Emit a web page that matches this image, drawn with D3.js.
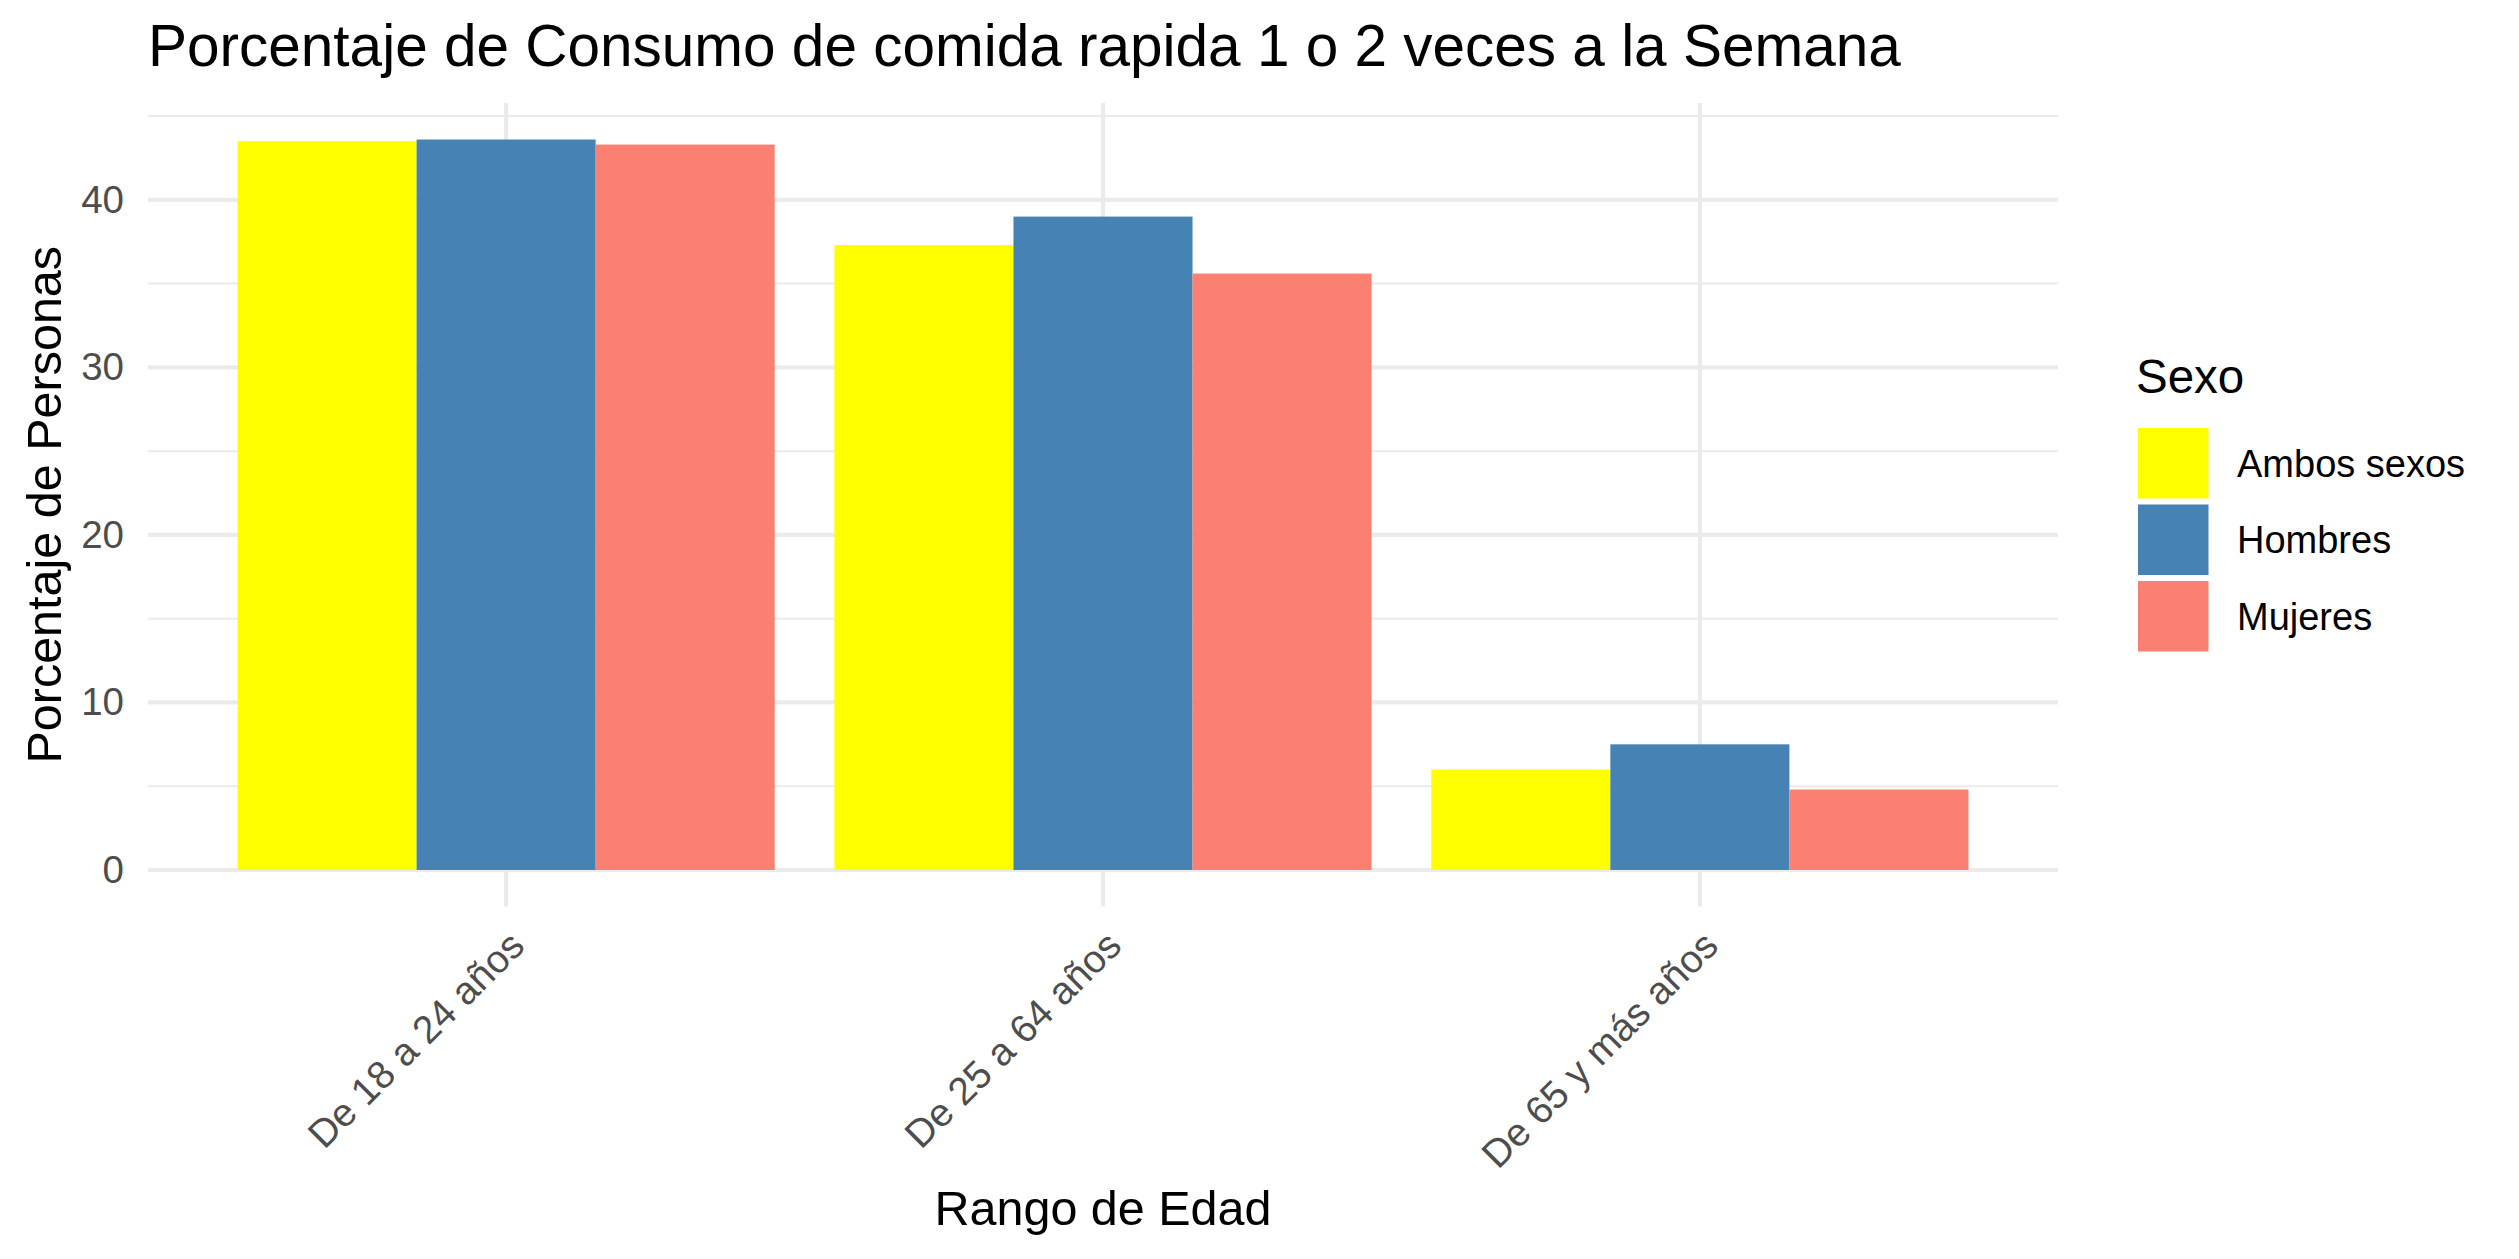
<!DOCTYPE html>
<html>
<head>
<meta charset="utf-8">
<script src="https://cdn.jsdelivr.net/npm/d3@7"></script>
<style>
  html, body { margin: 0; padding: 0; background: #fff; }
  svg { display: block; font-family: "Liberation Sans", Arial, Helvetica, sans-serif; }
</style>
</head>
<body>
<svg id="chart" width="2519" height="1259"></svg>
<script>
// ---- data ----
const categories = ["De 18 a 24 años", "De 25 a 64 años", "De 65 y más años"];
const series = ["Ambos sexos", "Hombres", "Mujeres"];
const colors = ["#FFFF00", "#4682B4", "#FA8072"];
const ambosSexos = [43.5, 37.3, 6.0];
const hombres = [43.6, 39.0, 7.5];
const mujeres = [43.3, 35.6, 4.8];
const yTicks = [0, 10, 20, 30, 40];
const yMinorTicks = [5, 15, 25, 35, 45];
const titleText = "Porcentaje de Consumo de comida rapida 1 o 2 veces a la Semana";
const xTitle = "Rango de Edad";
const yTitle = "Porcentaje de Personas";
const legendTitle = "Sexo";

const seriesValues = [ambosSexos, hombres, mujeres];
const data = [];
categories.forEach((c, i) => {
  series.forEach((s, j) => data.push({ cat: c, ser: s, val: seriesValues[j][i] }));
});

// ---- layout ----
const svg = d3.select("#chart");
const panel = { left: 148, right: 2058, top: 103, bottom: 906.5 };
const maxV = d3.max(data, d => d.val);

const x = d3.scaleBand().domain(categories).range([panel.left, panel.right])
  .paddingInner(0.1).paddingOuter(0.15).align(0.5);
const xInner = d3.scaleBand().domain(series).range([0, x.bandwidth()]).padding(0);
const y = d3.scaleLinear().domain([-0.05 * maxV, 1.05 * maxV]).range([panel.bottom, panel.top]);
const color = d3.scaleOrdinal().domain(series).range(colors);

const grid = "#EBEBEB";
const g = svg.append("g");

// minor gridlines
g.selectAll("line.minor").data(yMinorTicks.filter(t => y(t) >= panel.top)).enter().append("line")
  .attr("x1", panel.left).attr("x2", panel.right)
  .attr("y1", d => y(d)).attr("y2", d => y(d))
  .attr("stroke", grid).attr("stroke-width", 2);

// major horizontal gridlines
g.selectAll("line.major").data(yTicks).enter().append("line")
  .attr("x1", panel.left).attr("x2", panel.right)
  .attr("y1", d => y(d)).attr("y2", d => y(d))
  .attr("stroke", grid).attr("stroke-width", 4.2);

// vertical gridlines
g.selectAll("line.vmajor").data(categories).enter().append("line")
  .attr("x1", d => x(d) + x.bandwidth() / 2).attr("x2", d => x(d) + x.bandwidth() / 2)
  .attr("y1", panel.top).attr("y2", panel.bottom)
  .attr("stroke", grid).attr("stroke-width", 4.2);

// bars
g.selectAll("rect.bar").data(data).enter().append("rect")
  .attr("x", d => x(d.cat) + xInner(d.ser))
  .attr("width", xInner.bandwidth())
  .attr("y", d => y(d.val))
  .attr("height", d => y(0) - y(d.val))
  .attr("fill", d => color(d.ser));

// y axis (ticks hidden, labels only)
const yAxis = d3.axisLeft(y).tickValues(yTicks).tickSize(0).tickPadding(24);
const ya = svg.append("g").attr("transform", `translate(${panel.left},0)`).call(yAxis);
ya.select(".domain").remove();
ya.selectAll("text").attr("font-size", 38.5).attr("fill", "#4D4D4D")
  .attr("font-family", "Liberation Sans, Arial, sans-serif");

// x axis labels rotated 45
const xAxis = d3.axisBottom(x).tickSize(0).tickPadding(0);
const xa = svg.append("g").attr("transform", `translate(0,${panel.bottom + 21})`).call(xAxis);
xa.select(".domain").remove();
xa.selectAll(".tick text")
  .attr("font-size", 39).attr("fill", "#4D4D4D")
  .attr("font-family", "Liberation Sans, Arial, sans-serif")
  .attr("text-anchor", "end")
  .attr("y", 0).attr("dy", "0.74em")
  .attr("transform", "rotate(-45)");

// title
svg.append("text").attr("x", panel.left).attr("y", 66)
  .attr("font-size", 58.5).attr("fill", "#000").text(titleText);

// axis titles
svg.append("text").attr("x", (panel.left + panel.right) / 2).attr("y", 1225)
  .attr("text-anchor", "middle").attr("font-size", 48.5).attr("fill", "#000").text(xTitle);
svg.append("text")
  .attr("transform", `translate(61,${(panel.top + panel.bottom) / 2}) rotate(-90)`)
  .attr("text-anchor", "middle").attr("font-size", 48.5).attr("fill", "#000").text(yTitle);

// legend
const lg = svg.append("g");
lg.append("text").attr("x", 2136).attr("y", 393).attr("font-size", 47.5).attr("fill", "#000").text(legendTitle);
const keyTop = 428, keyPitch = 76.5, keySize = 70.5;
series.forEach((s, i) => {
  lg.append("rect").attr("x", 2138).attr("y", keyTop + i * keyPitch)
    .attr("width", keySize).attr("height", keySize).attr("fill", color(s));
  lg.append("text").attr("x", 2237).attr("y", keyTop + i * keyPitch + keySize / 2)
    .attr("dy", "0.35em").attr("font-size", 38).attr("fill", "#000").text(s);
});
</script>
</body>
</html>
